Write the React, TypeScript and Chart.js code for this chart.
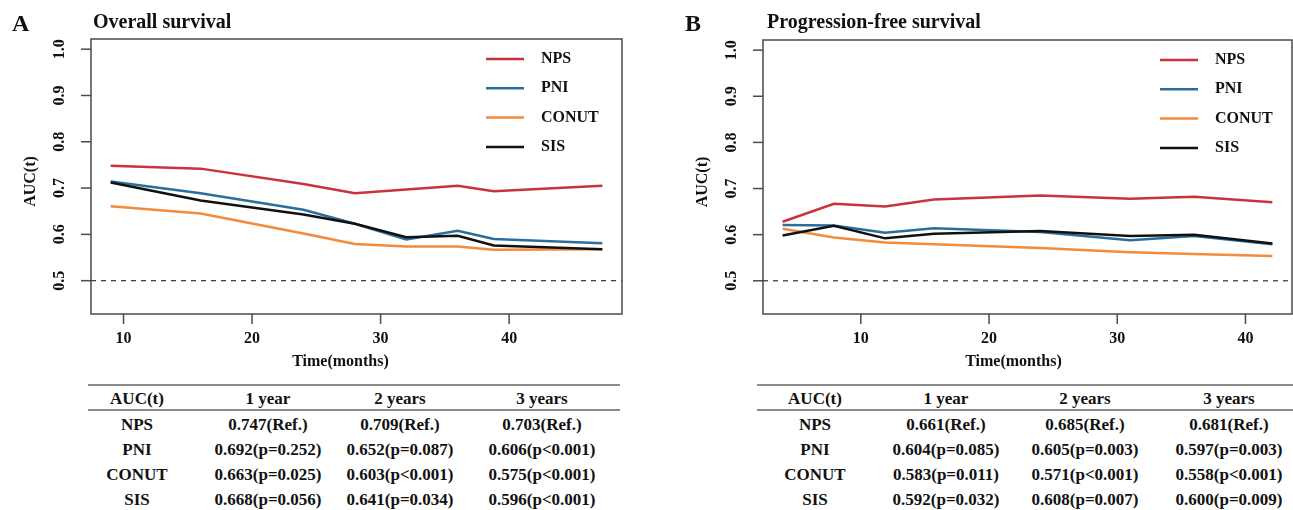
import React, { useEffect, useRef } from "react";
import { Chart, registerables } from "chart.js";
Chart.register(...registerables);

// ---------- data ----------
const seriesNames = ["NPS", "PNI", "CONUT", "SIS"];
const seriesColors = ["#CB333C", "#2B6E9B", "#F28B3B", "#111111"];

// Overall survival (time in months, AUC(t))
const osTimes = [9, 16, 24, 28, 32, 36, 38.8, 47.25];
const osNPS = [0.748, 0.742, 0.709, 0.689, 0.697, 0.705, 0.693, 0.705];
const osPNI = [0.714, 0.689, 0.653, 0.623, 0.589, 0.608, 0.59, 0.581];
const osCONUT = [0.661, 0.645, 0.602, 0.579, 0.574, 0.574, 0.567, 0.568];
const osSIS = [0.712, 0.673, 0.643, 0.623, 0.594, 0.597, 0.576, 0.568];

// Progression-free survival
const pfsTimes = [3.9, 7.9, 11.9, 15.7, 24, 31, 36, 42.1];
const pfsNPS = [0.628, 0.667, 0.661, 0.676, 0.685, 0.678, 0.682, 0.67];
const pfsPNI = [0.621, 0.62, 0.604, 0.614, 0.606, 0.588, 0.597, 0.579];
const pfsCONUT = [0.613, 0.594, 0.583, 0.579, 0.571, 0.562, 0.558, 0.554];
const pfsSIS = [0.598, 0.619, 0.592, 0.602, 0.608, 0.597, 0.6, 0.581];

const yTicks = [0.5, 0.6, 0.7, 0.8, 0.9, 1.0];
const yTickLabels = ["0.5", "0.6", "0.7", "0.8", "0.9", "1.0"];
const xTicks = [10, 20, 30, 40];
const xTickLabels = ["10", "20", "30", "40"];
const refLine = 0.5;

const tableHeader = ["AUC(t)", "1 year", "2 years", "3 years"];
const osRowNPS = ["NPS", "0.747(Ref.)", "0.709(Ref.)", "0.703(Ref.)"];
const osRowPNI = ["PNI", "0.692(p=0.252)", "0.652(p=0.087)", "0.606(p<0.001)"];
const osRowCONUT = ["CONUT", "0.663(p=0.025)", "0.603(p<0.001)", "0.575(p<0.001)"];
const osRowSIS = ["SIS", "0.668(p=0.056)", "0.641(p=0.034)", "0.596(p<0.001)"];
const pfsRowNPS = ["NPS", "0.661(Ref.)", "0.685(Ref.)", "0.681(Ref.)"];
const pfsRowPNI = ["PNI", "0.604(p=0.085)", "0.605(p=0.003)", "0.597(p=0.003)"];
const pfsRowCONUT = ["CONUT", "0.583(p=0.011)", "0.571(p<0.001)", "0.558(p<0.001)"];
const pfsRowSIS = ["SIS", "0.592(p=0.032)", "0.608(p=0.007)", "0.600(p=0.009)"];

const FONT = '"Liberation Serif", "Times New Roman", serif';

type PanelProps = {
  letter: string;
  title: string;
  times: number[];
  series: number[][];
  xMin: number;
  xMax: number;
  left: number;
  width: number;
  height: number;
  padding: { left: number; right: number; top: number; bottom: number };
  letterX: number;
  titleX: number;
  legendX: number;
  legendY: number;
  xLabelShift: number;
};

function Panel(p: PanelProps) {
  const ref = useRef<HTMLCanvasElement | null>(null);
  useEffect(() => {
    const canvas = ref.current;
    if (!canvas) return;
    const plugin = {
      id: "rplot",
      beforeDatasetsDraw(chart: any) {
        const { ctx, chartArea: a, scales } = chart;
        const py = scales.y.getPixelForValue(refLine);
        ctx.save();
        ctx.strokeStyle = "#333";
        ctx.lineWidth = 1.2;
        ctx.setLineDash([5, 5]);
        ctx.beginPath();
        ctx.moveTo(a.left, py);
        ctx.lineTo(a.right, py);
        ctx.stroke();
        ctx.restore();
      },
      afterDraw(chart: any) {
        const { ctx, chartArea: a, scales } = chart;
        const x = scales.x;
        const y = scales.y;
        ctx.save();
        // box
        ctx.strokeStyle = "#4a4a4a";
        ctx.lineWidth = 1.5;
        ctx.strokeRect(a.left, a.top, a.right - a.left, a.bottom - a.top);
        ctx.fillStyle = "#111";
        ctx.font = `bold 16px ${FONT}`;
        // x ticks
        xTicks.forEach((v, i) => {
          const px = x.getPixelForValue(v);
          ctx.beginPath();
          ctx.moveTo(px, a.bottom);
          ctx.lineTo(px, a.bottom + 10);
          ctx.stroke();
          ctx.textAlign = "center";
          ctx.textBaseline = "middle";
          ctx.fillText(xTickLabels[i], px, a.bottom + 25);
        });
        // y ticks
        yTicks.forEach((v, i) => {
          const py = y.getPixelForValue(v);
          ctx.beginPath();
          ctx.moveTo(a.left - 10, py);
          ctx.lineTo(a.left, py);
          ctx.stroke();
          ctx.save();
          ctx.translate(a.left - 31, py);
          ctx.rotate(-Math.PI / 2);
          ctx.textAlign = "center";
          ctx.textBaseline = "middle";
          ctx.fillText(yTickLabels[i], 0, 0);
          ctx.restore();
        });
        // axis titles
        ctx.textAlign = "center";
        ctx.textBaseline = "middle";
        ctx.fillText("Time(months)", (a.left + a.right) / 2 + p.xLabelShift, a.bottom + 48);
        ctx.save();
        ctx.translate(a.left - 60, (a.top + a.bottom) / 2 + 5);
        ctx.rotate(-Math.PI / 2);
        ctx.fillText("AUC(t)", 0, 0);
        ctx.restore();
        // legend
        seriesNames.forEach((name, i) => {
          const ly = p.legendY + i * 29.3;
          ctx.strokeStyle = seriesColors[i];
          ctx.lineWidth = 2.5;
          ctx.beginPath();
          ctx.moveTo(p.legendX, ly);
          ctx.lineTo(p.legendX + 38, ly);
          ctx.stroke();
          ctx.textAlign = "left";
          ctx.textBaseline = "middle";
          ctx.fillStyle = "#111";
          ctx.fillText(name, p.legendX + 55, ly);
        });
        // letter + title
        ctx.textBaseline = "alphabetic";
        ctx.textAlign = "left";
        ctx.font = `bold 24px ${FONT}`;
        ctx.fillText(p.letter, p.letterX, 31);
        ctx.font = `bold 20px ${FONT}`;
        ctx.fillText(p.title, p.titleX, 28);
        ctx.restore();
      },
    };
    const chart = new Chart(canvas, {
      type: "line",
      data: {
        datasets: p.series.map((vals, i) => ({
          label: seriesNames[i],
          data: p.times.map((t, j) => ({ x: t, y: vals[j] })),
          borderColor: seriesColors[i],
          backgroundColor: seriesColors[i],
          borderWidth: 2.5,
          pointRadius: 0,
          tension: 0,
          fill: false,
          order: seriesNames.length - i,
        })),
      },
      options: {
        animation: false,
        responsive: false,
        maintainAspectRatio: false,
        devicePixelRatio: 1,
        layout: { padding: p.padding },
        plugins: { legend: { display: false }, tooltip: { enabled: false }, title: { display: false } },
        scales: {
          x: { type: "linear", min: p.xMin, max: p.xMax, display: false },
          y: { type: "linear", min: 0.428, max: 1.022, display: false },
        },
      },
      plugins: [plugin],
    } as any);
    return () => chart.destroy();
  }, []);
  return (
    <canvas
      ref={ref}
      width={p.width}
      height={p.height}
      style={{ position: "absolute", left: p.left, top: 0, width: p.width, height: p.height }}
    />
  );
}

type TableProps = {
  left: number;
  right: number;
  centers: number[];
  rows: string[][];
};

function AucTable(t: TableProps) {
  const rowY = [424, 449, 474, 499];
  const txt = (s: string, cx: number, cy: number, key: string) => (
    <div
      key={key}
      style={{
        position: "absolute",
        left: cx,
        top: cy,
        transform: "translate(-50%, -50%)",
        whiteSpace: "nowrap",
        fontFamily: FONT,
        fontWeight: "bold",
        fontSize: 17,
        color: "#111",
        lineHeight: "19px",
      }}
    >
      {s}
    </div>
  );
  return (
    <>
      <div style={{ position: "absolute", left: t.left, width: t.right - t.left, top: 384, height: 2, background: "#8a8a8a" }} />
      <div style={{ position: "absolute", left: t.left, width: t.right - t.left, top: 409, height: 2, background: "#8a8a8a" }} />
      {tableHeader.map((h, i) => txt(h, t.centers[i], 398, "h" + i))}
      {t.rows.map((r, ri) => r.map((c, ci) => txt(c, t.centers[ci], rowY[ri], `r${ri}c${ci}`)))}
    </>
  );
}

export default function App() {
  return (
    <div
      style={{
        position: "absolute",
        left: 0,
        top: 0,
        width: 1293,
        height: 510,
        overflow: "hidden",
        background: "#fff",
      }}
    >
      <Panel
        letter="A"
        title="Overall survival"
        times={osTimes}
        series={[osNPS, osPNI, osCONUT, osSIS]}
        xMin={7.47}
        xMax={48.78}
        left={0}
        width={650}
        height={380}
        padding={{ left: 91, right: 28, top: 39, bottom: 66 }}
        letterX={12}
        titleX={93}
        legendX={486}
        legendY={59}
        xLabelShift={-16}
      />
      <Panel
        letter="B"
        title="Progression-free survival"
        times={pfsTimes}
        series={[pfsNPS, pfsPNI, pfsCONUT, pfsSIS]}
        xMin={2.37}
        xMax={43.63}
        left={655}
        width={638}
        height={380}
        padding={{ left: 108, right: 1, top: 40, bottom: 66 }}
        letterX={30}
        titleX={112}
        legendX={505}
        legendY={60}
        xLabelShift={-14}
      />
      <AucTable
        left={88}
        right={620}
        centers={[137, 268, 400, 542]}
        rows={[osRowNPS, osRowPNI, osRowCONUT, osRowSIS]}
      />
      <AucTable
        left={757}
        right={1293}
        centers={[815, 946, 1085, 1229]}
        rows={[pfsRowNPS, pfsRowPNI, pfsRowCONUT, pfsRowSIS]}
      />
    </div>
  );
}
